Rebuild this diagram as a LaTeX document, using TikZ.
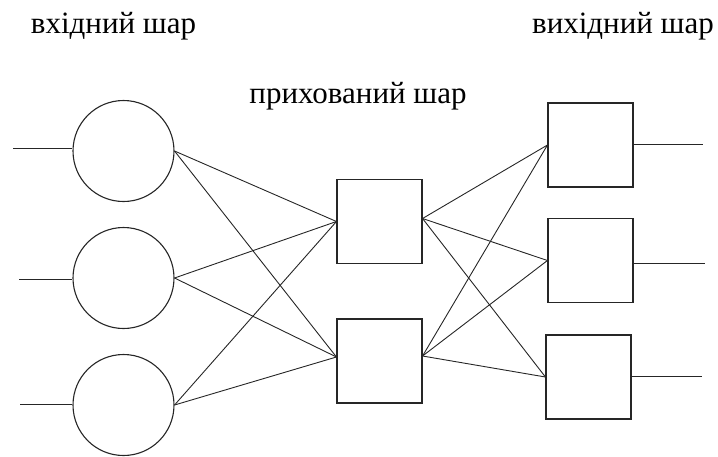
\documentclass[tikz,border=0pt]{standalone}
\usepackage{fontspec}
\setmainfont{Liberation Serif}
\begin{document}
\begin{tikzpicture}[x=1pt,y=-1pt,
  neuron/.style={circle,draw=black!85,line width=1.1pt,minimum size=101pt,inner sep=0pt},
  unit/.style={rectangle,draw=black!85,line width=1.1pt,minimum width=85pt,minimum height=84pt,inner sep=0pt},
  link/.style={draw=black!85,line width=0.9pt},
  lbl/.style={anchor=base,font=\fontsize{31}{33}\selectfont,inner sep=0pt}]
\useasboundingbox (0,0) rectangle (718,456);
% labels
\node[lbl] (tin) at (113.5,33) {вхідний шар};
\node[lbl] (tout) at (623,33) {вихідний шар};
\node[lbl] (thid) at (358,103) {прихований шар};
% input neurons
\node[neuron] (i1) at (123.5,151) {};
\node[neuron] (i2) at (123.5,278) {};
\node[neuron] (i3) at (123.5,405) {};
% hidden units
\node[unit] (h1) at (379.5,221.5) {};
\node[unit] (h2) at (379.5,361) {};
% output units
\node[unit] (o1) at (590.5,145) {};
\node[unit] (o2) at (590.5,260.5) {};
\node[unit] (o3) at (588.5,377) {};
% ports on hidden units
\coordinate (h1in) at ([yshift=0pt]h1.west);
\coordinate (h2in) at ([yshift=4pt]h2.west);
\coordinate (h1out) at ([yshift=3pt]h1.east);
\coordinate (h2out) at ([yshift=5pt]h2.east);
% input stubs
\coordinate (a1) at (13,148);
\coordinate (a2) at (19,279);
\coordinate (a3) at (20,404);
\draw[link] (a1) -- (i1.west |- a1);
\draw[link] (a2) -- (i2.west |- a2);
\draw[link] (a3) -- (i3.west |- a3);
% output stubs
\coordinate (b1) at (703,144);
\coordinate (b2) at (705,263);
\coordinate (b3) at (702,376);
\draw[link] (o1.east |- b1) -- (b1);
\draw[link] (o2.east |- b2) -- (b2);
\draw[link] (o3.east |- b3) -- (b3);
% input -> hidden
\foreach \i in {1,2,3}{
  \foreach \h in {1,2}{
    \draw[link] (i\i.east) -- (h\h in);
  }
}
% hidden -> output
\foreach \h in {1,2}{
  \foreach \o in {1,2,3}{
    \draw[link] (h\h out) -- (o\o.west);
  }
}
\end{tikzpicture}
\end{document}
